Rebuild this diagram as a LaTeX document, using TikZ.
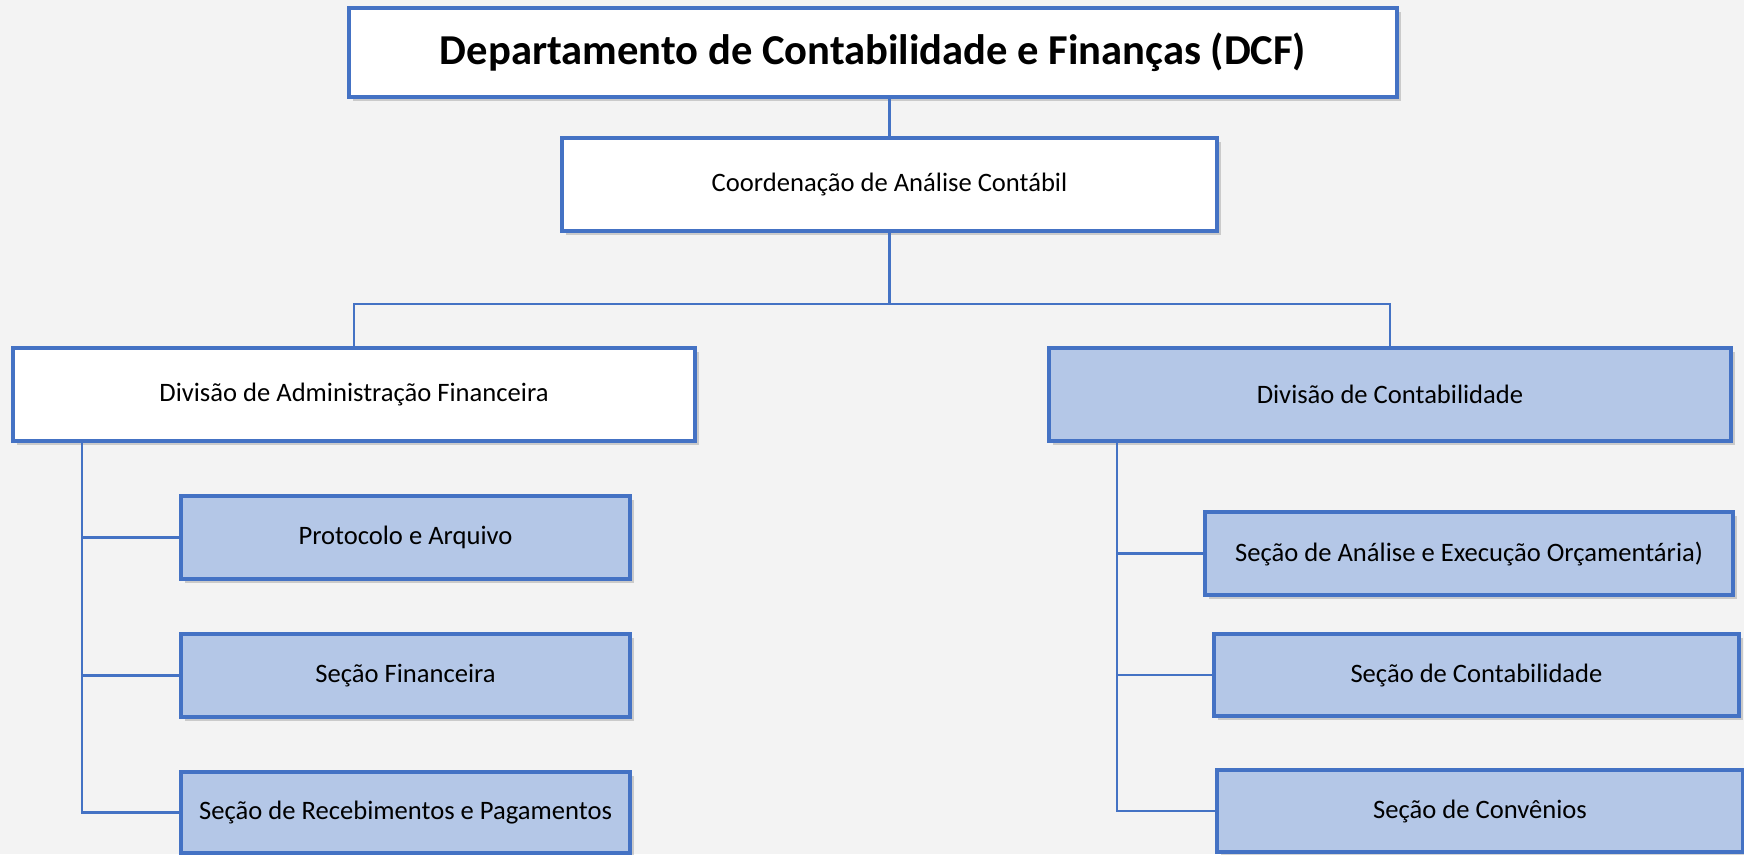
\documentclass[tikz,border=0pt]{standalone}
\usepackage{fontspec}
\setmainfont{Carlito}
\usepackage{xcolor}
\usetikzlibrary{shadows}
\definecolor{dcfblue}{HTML}{4472C4}
\definecolor{dcflight}{HTML}{B4C7E7}
\definecolor{dcfback}{HTML}{F3F3F3}
\tikzset{
	orgbox/.style = {draw = dcfblue, line width = 3.5pt, fill = white, inner sep = 0pt,
		font = \fontsize{26.6}{32}\selectfont,
		drop shadow = {shadow xshift = 4pt, shadow yshift = -4pt, opacity = 0.35, fill = gray}},
	secbox/.style = {orgbox, fill = dcflight},
	link/.style = {draw = dcfblue, line width = 2.5pt}
}

\begin{document}
\begin{tikzpicture}[x = 1pt, y = -1pt]
	\fill[dcfback] (0,0) rectangle (1744,854);
	\useasboundingbox (0,0) rectangle (1744,854);
	
	\node[orgbox, minimum width = 1048pt, minimum height = 89pt, font = \fontsize{42.6}{48}\selectfont\bfseries] (dcf) at (873,52.5) {Departamento de Contabilidade e Finanças (DCF)};
	\node[orgbox, minimum width = 655pt, minimum height = 93pt] (cac) at (889.5,184.5) {Coordenação de Análise Contábil};
	
	\node[orgbox, minimum width = 682pt, minimum height = 93pt] (daf) at (354,394.5) {Divisão de Administração Financeira};
	\node[secbox, minimum width = 682pt, minimum height = 93pt] (dc) at (1390,394.5) {Divisão de Contabilidade};
	
	\node[secbox, minimum width = 449pt, minimum height = 83pt] (pa) at (405.5,537.5) {Protocolo e Arquivo};
	\node[secbox, minimum width = 449pt, minimum height = 83pt] (sf) at (405.5,675.5) {Seção Financeira};
	\node[secbox, minimum width = 449pt, minimum height = 81pt] (srp) at (405.5,812.5) {Seção de Recebimentos e Pagamentos};
	
	\node[secbox, minimum width = 528pt, minimum height = 83pt] (saeo) at (1469,553.5) {Seção de Análise e Execução Orçamentária)};
	\node[secbox, minimum width = 525pt, minimum height = 82pt] (sc) at (1476.5,675) {Seção de Contabilidade};
	\node[secbox, minimum width = 526pt, minimum height = 82pt] (scv) at (1480,811) {Seção de Convênios};
	
	\draw[link] (dcf.south -| cac.north) -- (cac.north);
	\draw[link] (cac.south) -- ++(0,71) coordinate (hub);
	\draw[link] (daf.north) |- (hub) -| (dc.north);
	
	\coordinate (lspine) at (82,441);
	\coordinate (rspine) at (1117,441);
	\draw[link] (lspine) |- (srp.west);
	\draw[link] (lspine |- pa.west) -- (pa.west);
	\draw[link] (lspine |- sf.west) -- (sf.west);
	\draw[link] (rspine) |- (scv.west);
	\draw[link] (rspine |- saeo.west) -- (saeo.west);
	\draw[link] (rspine |- sc.west) -- (sc.west);
	
\end{tikzpicture}
\end{document}
